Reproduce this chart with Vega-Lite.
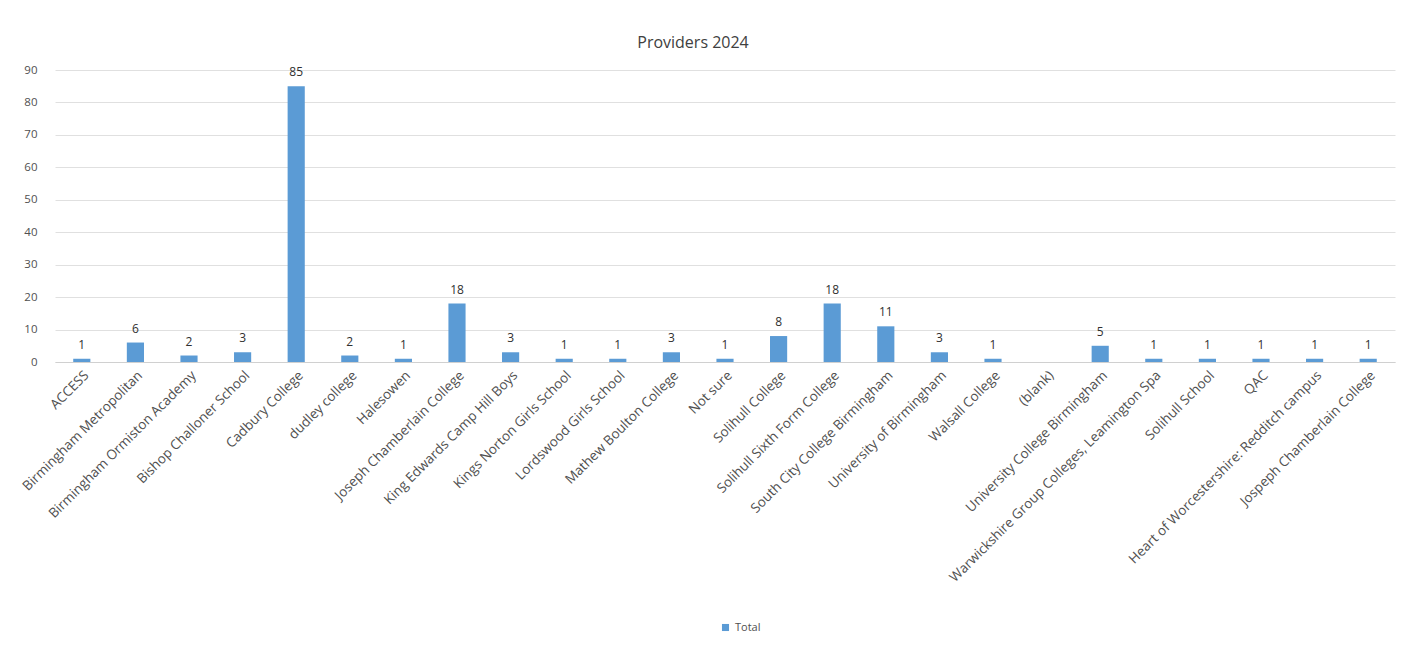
{
  "$schema": "https://vega.github.io/schema/vega-lite/v6.json",
  "width": 1340,
  "height": 292,
  "autosize": {"type": "none"},
  "padding": {"left": 55, "top": 70, "right": 10, "bottom": 295},
  "background": "white",
  "config": {"view": {"stroke": null}},
  "title": {"text": "Providers 2024", "fontSize": 16, "font": "Open Sans", "fontWeight": "normal", "color": "#404040", "offset": 13, "dx": -32},
  "data": {"values": [
    {"provider": "ACCESS", "value": 1},
    {"provider": "Birmingham Metropolitan", "value": 6},
    {"provider": "Birmingham Ormiston Academy", "value": 2},
    {"provider": "Bishop Challoner School", "value": 3},
    {"provider": "Cadbury College", "value": 85},
    {"provider": "dudley college", "value": 2},
    {"provider": "Halesowen", "value": 1},
    {"provider": "Joseph Chamberlain College", "value": 18},
    {"provider": "King Edwards Camp Hill Boys", "value": 3},
    {"provider": "Kings Norton Girls School", "value": 1},
    {"provider": "Lordswood Girls School", "value": 1},
    {"provider": "Mathew Boulton College", "value": 3},
    {"provider": "Not sure", "value": 1},
    {"provider": "Solihull College", "value": 8},
    {"provider": "Solihull Sixth Form College", "value": 18},
    {"provider": "South City College Birmingham", "value": 11},
    {"provider": "University of Birmingham", "value": 3},
    {"provider": "Walsall College", "value": 1},
    {"provider": "University College Birmingham", "value": 5},
    {"provider": "Warwickshire Group Colleges, Leamington Spa", "value": 1},
    {"provider": "Solihull School", "value": 1},
    {"provider": "QAC", "value": 1},
    {"provider": "Heart of Worcestershire: Redditch campus", "value": 1},
    {"provider": "Jospeph Chamberlain College", "value": 1}
  ]},
  "encoding": {
    "x": {
      "field": "provider", "type": "nominal", "sort": null, "title": null,
      "scale": {
        "domain": ["ACCESS", "Birmingham Metropolitan", "Birmingham Ormiston Academy", "Bishop Challoner School", "Cadbury College", "dudley college", "Halesowen", "Joseph Chamberlain College", "King Edwards Camp Hill Boys", "Kings Norton Girls School", "Lordswood Girls School", "Mathew Boulton College", "Not sure", "Solihull College", "Solihull Sixth Form College", "South City College Birmingham", "University of Birmingham", "Walsall College", "(blank)", "University College Birmingham", "Warwickshire Group Colleges, Leamington Spa", "Solihull School", "QAC", "Heart of Worcestershire: Redditch campus", "Jospeph Chamberlain College"],
        "paddingInner": 0.68, "paddingOuter": 0.34
      },
      "axis": {"labelAngle": -45, "labelFontSize": 13.5, "labelFont": "Open Sans", "labelColor": "#505050", "ticks": false, "domainColor": "#d0d0d0", "labelPadding": 6, "labelLimit": 400}
    },
    "y": {
      "field": "value", "type": "quantitative", "title": null,
      "scale": {"domain": [0, 90]},
      "axis": {"values": [0, 10, 20, 30, 40, 50, 60, 70, 80, 90], "domain": false, "ticks": false, "labelFontSize": 11.5, "labelFont": "Open Sans", "labelColor": "#505050", "labelPadding": 18, "gridColor": "#e0e0e0"}
    }
  },
  "layer": [
    {
      "mark": {"type": "bar", "color": "#5b9bd5"},
      "encoding": {
        "color": {"datum": "Total", "type": "nominal", "scale": {"range": ["#5b9bd5"]},
          "legend": {"title": null, "orient": "none", "legendX": 665, "legendY": 552, "symbolType": "square", "symbolSize": 50, "labelFontSize": 11, "labelFont": "Open Sans", "labelColor": "#505050"}}
      }
    },
    {
      "mark": {"type": "text", "dy": -14, "fontSize": 12, "font": "Open Sans", "color": "#303030"},
      "encoding": {"text": {"field": "value", "type": "quantitative"}}
    }
  ]
}
